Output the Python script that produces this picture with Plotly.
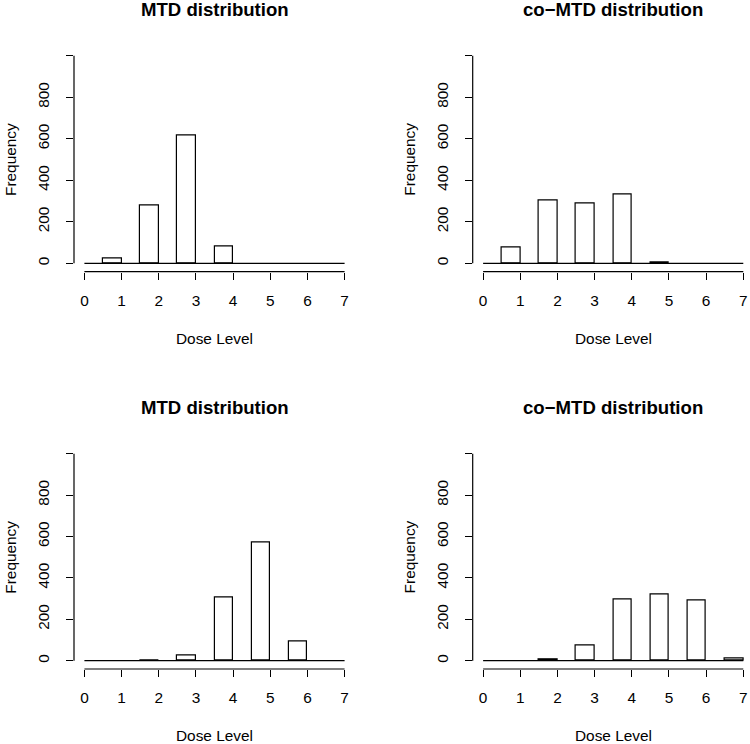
import plotly.graph_objects as go

levels = [1, 2, 3, 4, 5, 6, 7]
mtd_top = [23, 281, 614, 82, 0, 0, 0]
comtd_top = [76, 304, 287, 331, 2, 0, 0]
mtd_bottom = [0, 2, 24, 306, 573, 95, 0]
comtd_bottom = [0, 6, 76, 297, 318, 293, 10]
titles = ["MTD distribution", "co\u2212MTD distribution", "MTD distribution", "co\u2212MTD distribution"]
x_ticks = [0, 1, 2, 3, 4, 5, 6, 7]
y_ticks = [0, 200, 400, 600, 800, 1000]
y_ticktext = ["0", "200", "400", "600", "800", ""]

W, H = 750, 744
FONT = "Liberation Sans, Arial, Helvetica, sans-serif"
LW = 1.2

# panel pixel boxes: (left, right, top, bottom)
boxes = [
    (74.0, 355.0, 47.4, 271.6),
    (472.7, 750.0, 47.4, 271.6),
    (74.0, 355.0, 445.4, 669.0),
    (472.7, 750.0, 445.4, 669.0),
]
unit = 281.0 / 7.56
series = [mtd_top, comtd_top, mtd_bottom, comtd_bottom]

fig = go.Figure()
annotations = []
shapes = []
for i, (vals, (l, r, t, b)) in enumerate(zip(series, boxes)):
    n = i + 1
    xa = "x" if n == 1 else f"x{n}"
    ya = "y" if n == 1 else f"y{n}"
    fig.add_trace(go.Bar(
        x=[lv - 0.25 for lv in levels], y=[v if v > 0 else None for v in vals], width=0.5,
        marker=dict(color="white", line=dict(color="black", width=LW)),
        xaxis=xa, yaxis=ya, showlegend=False, hoverinfo="x+y"))
    xmax = -0.28 + (r - l) / unit
    axcommon = dict(showgrid=False, zeroline=False, showline=False,
                    ticks="outside", ticklen=7, tickwidth=LW, tickcolor="black",
                    tickfont=dict(family=FONT, size=15.4, color="black"))
    fig.update_layout(**{
        ("xaxis" if n == 1 else f"xaxis{n}"): dict(
            domain=[l / W, r / W], range=[-0.28, xmax], anchor=ya,
            tickmode="array", tickvals=x_ticks, ticklabelstandoff=8, **axcommon),
        ("yaxis" if n == 1 else f"yaxis{n}"): dict(
            domain=[1 - b / H, 1 - t / H], range=[-40, 1040], anchor=xa,
            tickmode="array", tickvals=y_ticks, ticktext=y_ticktext,
            tickangle=-90, ticklabelstandoff=11, **axcommon),
    })
    # axis lines (R style, spanning first to last tick)
    shapes.append(dict(type="line", xref=f"{xa} domain", yref=ya, x0=0, x1=0,
                       y0=0, y1=1000, line=dict(color="black", width=LW)))
    shapes.append(dict(type="line", xref=xa, yref=f"{ya} domain", x0=0, x1=7,
                       y0=0, y1=0, line=dict(color="black", width=LW)))
    # histogram baseline
    shapes.append(dict(type="line", xref=xa, yref=ya, x0=0, x1=7,
                       y0=0, y1=0, line=dict(color="black", width=LW)))
    annotations.append(dict(text=f"<b>{titles[i]}</b>", xref=xa, x=3.5,
                            yref="paper", y=1 - (t - 38.0) / H,
                            xanchor="center", yanchor="middle", showarrow=False,
                            font=dict(family=FONT, size=18.6, color="black")))
    annotations.append(dict(text="Dose Level", xref=xa, x=3.5,
                            yref="paper", y=1 - (b + 66.5) / H,
                            xanchor="center", yanchor="middle", showarrow=False,
                            font=dict(family=FONT, size=15.4, color="black")))
    annotations.append(dict(text="Frequency", xref="paper", x=(l - 63.5) / W,
                            yref="paper", y=1 - ((t + b) / 2) / H, textangle=-90,
                            xanchor="center", yanchor="middle", showarrow=False,
                            font=dict(family=FONT, size=15.4, color="black")))

fig.update_layout(width=W, height=H, margin=dict(l=0, r=0, t=0, b=0),
                  paper_bgcolor="white", plot_bgcolor="white",
                  bargap=0, annotations=annotations, shapes=shapes,
                  font=dict(family=FONT, color="black"))
fig.write_html("out.html", config={"displayModeBar": False},
               post_script="document.body.style.margin='0';document.body.style.padding='0';")
